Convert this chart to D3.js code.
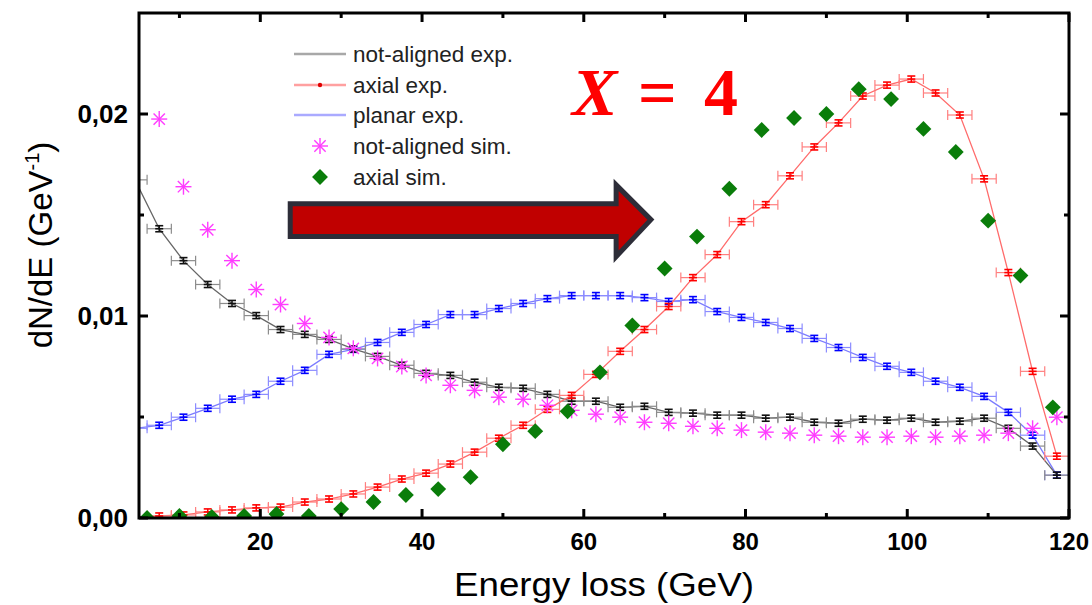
<!DOCTYPE html>
<html>
<head>
<meta charset="utf-8">
<script src="https://cdn.jsdelivr.net/npm/d3@7"></script>
<style>
  html, body { margin: 0; padding: 0; background: #fff; }
  svg { display: block; }
</style>
</head>
<body>
<svg id="chart" width="1092" height="605"></svg>
<script>
// ---------------- data ----------------
// experimental bin centres (GeV)
const expEnergy = [4.5,7.5,10.5,13.5,16.5,19.5,22.5,25.5,28.5,31.5,34.5,37.5,40.5,43.5,46.5,49.5,52.5,55.5,58.5,61.5,
  64.5,67.5,70.5,73.5,76.5,79.5,82.5,85.5,88.5,91.5,94.5,97.5,100.5,103.5,106.5,109.5,112.5,115.5,118.5];
// values in units of 1e-3 GeV^-1
const notAlignedExp = [16.74,14.32,12.74,11.56,10.62,10.02,9.33,9.09,8.84,8.37,8.0,7.56,7.16,7.06,6.72,6.47,6.42,6.12,5.78,5.78,
  5.48,5.53,5.23,5.19,5.09,5.09,4.94,4.99,4.74,4.69,4.89,4.84,4.94,4.74,4.79,4.94,4.44,3.56,2.12];
const axialExp = [0.05,0.1,0.15,0.3,0.4,0.5,0.54,0.79,0.94,1.19,1.53,1.93,2.22,2.67,3.26,3.95,4.59,5.38,6.07,7.11,
  8.25,9.33,10.47,11.9,13.04,14.67,15.51,16.94,18.37,19.56,20.89,21.43,21.73,21.04,19.95,16.79,12.15,7.26,3.06];
const planarExp = [4.44,4.59,4.99,5.43,5.88,6.12,6.77,7.31,8.1,8.35,8.69,9.19,9.58,10.07,10.07,10.37,10.62,10.86,11.01,11.01,
  11.01,10.91,10.72,10.81,10.22,9.93,9.68,9.38,8.89,8.44,7.95,7.51,7.21,6.77,6.47,6.02,5.23,4.10,2.12];
const expErrY = 0.15;      // vertical error (1e-3 GeV^-1)
const expHalfBin = 1.5;    // horizontal error (GeV)

const notAlignedSimEnergy = [7.5,10.5,13.5,16.5,19.5,22.5,25.5,28.5,31.5,34.5,37.5,40.5,43.5,46.5,49.5,52.5,55.5,58.5,61.5,
  64.5,67.5,70.5,73.5,76.5,79.5,82.5,85.5,88.5,91.5,94.5,97.5,100.5,103.5,106.5,109.5,112.5,115.5,118.5];
const notAlignedSim = [19.75,16.4,14.27,12.74,11.31,10.57,9.63,8.94,8.40,7.9,7.5,7.06,6.57,6.32,5.98,5.88,5.58,5.33,5.14,
  4.99,4.74,4.69,4.54,4.44,4.35,4.25,4.2,4.1,4.05,4.0,4.0,4.05,4.0,4.05,4.1,4.2,4.44,4.99];

const axialSimEnergy = [6,10,14,18,22,26,30,34,38,42,46,50,54,58,62,66,70,74,78,82,86,90,94,98,102,106,110,114,118];
const axialSim = [0.0,0.1,0.05,0.1,0.2,0.1,0.44,0.79,1.14,1.43,2.02,3.65,4.30,5.28,7.21,9.53,12.35,13.93,16.30,19.21,
  19.80,20.0,21.23,20.74,19.26,18.12,14.72,12.0,5.48];

const xMajorTicks = [20,40,60,80,100,120];
const xMinorTicks = [10,30,50,70,90,110];
const yMajorTicks = [0, 0.01, 0.02];
const yMinorTicks = [0.005, 0.015];
const yTickLabels = ["0,00","0,01","0,02"];

const legendLabels = ["not-aligned exp.","axial exp.","planar exp.","not-aligned sim.","axial sim."];

// arrow annotation, in data coordinates (GeV, GeV^-1)
const arrowE = {start: 23.7, headBase: 64.0, tip: 68.3};
const arrowV = {bodyTop: 0.01556, bodyBottom: 0.01393, headTop: 0.01649, headBottom: 0.01294, mid: 0.01477};

// ---------------- layout ----------------
const svg = d3.select("#chart");
const L = 139, R = 1069, T = 13, B = 518;
const x = d3.scaleLinear().domain([5, 120]).range([L, R]);
const y = d3.scaleLinear().domain([0, 0.025]).range([B, T]);
const sc = 1e-3;

svg.append("rect").attr("width",1092).attr("height",605).attr("fill","#fff");

svg.append("defs").append("clipPath").attr("id","plotclip")
  .append("rect").attr("x",L).attr("y",T).attr("width",R-L).attr("height",B-T);

const plot = svg.append("g").attr("clip-path","url(#plotclip)");

// ---------------- experimental series ----------------
function expSeries(vals, lineCol, lightCol, darkCol) {
  const pts = expEnergy.map((e,i)=>({e, v: vals[i]*sc}));
  const g = plot.append("g");
  g.append("path").datum(pts)
    .attr("fill","none").attr("stroke",lineCol).attr("stroke-width",1.3)
    .attr("d", d3.line().x(d=>x(d.e)).y(d=>y(d.v)));
  const eb = g.selectAll("g.eb").data(pts).join("g");
  eb.append("line")
    .attr("x1",d=>x(d.e-expHalfBin)).attr("x2",d=>x(d.e+expHalfBin))
    .attr("y1",d=>y(d.v)).attr("y2",d=>y(d.v))
    .attr("stroke",lightCol).attr("stroke-width",1.2);
  [-1,1].forEach(s=>{
    eb.append("line")
      .attr("x1",d=>x(d.e+s*expHalfBin)).attr("x2",d=>x(d.e+s*expHalfBin))
      .attr("y1",d=>y(d.v)-5).attr("y2",d=>y(d.v)+5)
      .attr("stroke",lightCol).attr("stroke-width",1.2);
  });
  eb.append("line")
    .attr("x1",d=>x(d.e)).attr("x2",d=>x(d.e))
    .attr("y1",d=>y(d.v+expErrY*sc)).attr("y2",d=>y(d.v-expErrY*sc))
    .attr("stroke",darkCol).attr("stroke-width",1.5);
  [-1,1].forEach(s=>{
    eb.append("line")
      .attr("x1",d=>x(d.e)-4).attr("x2",d=>x(d.e)+4)
      .attr("y1",d=>y(d.v+s*expErrY*sc)).attr("y2",d=>y(d.v+s*expErrY*sc))
      .attr("stroke",darkCol).attr("stroke-width",1.6);
  });
  eb.append("line")
    .attr("x1",d=>x(d.e)-4).attr("x2",d=>x(d.e)+4)
    .attr("y1",d=>y(d.v)).attr("y2",d=>y(d.v))
    .attr("stroke",darkCol).attr("stroke-width",1.6);
}

expSeries(planarExp, "#7b7bff", "#8c8cff", "#0000ff");
expSeries(notAlignedExp, "#666666", "#8c8c8c", "#111111");
expSeries(axialExp, "#ff6b6b", "#ff7f7f", "#ff0000");

// ---------------- simulation series ----------------
function asterisk(sel, r) {
  [0,45,90,135].forEach(a=>{
    const rad = a*Math.PI/180;
    sel.append("line")
      .attr("x1",-r*Math.cos(rad)).attr("y1",-r*Math.sin(rad))
      .attr("x2",r*Math.cos(rad)).attr("y2",r*Math.sin(rad));
  });
}
const mag = plot.append("g").attr("stroke","#ff3cff").attr("stroke-width",1.4);
notAlignedSimEnergy.forEach((e,i)=>{
  const g = mag.append("g").attr("transform",`translate(${x(e)},${y(notAlignedSim[i]*sc)})`);
  asterisk(g, 8);
});

const diamond = d3.symbol().type(d3.symbolDiamond2).size(160);
plot.append("g").selectAll("path")
  .data(axialSimEnergy.map((e,i)=>({e, v: axialSim[i]*sc})))
  .join("path")
  .attr("transform",d=>`translate(${x(d.e)},${y(d.v)})`)
  .attr("d", diamond)
  .attr("fill","#0a7d0a");

// ---------------- frame & ticks ----------------
const frame = svg.append("g").attr("stroke","#000").attr("stroke-width",3);
function tickLine(x1,y1,x2,y2){ frame.append("line").attr("x1",x1).attr("y1",y1).attr("x2",x2).attr("y2",y2); }
xMajorTicks.forEach(t=>{ tickLine(x(t),B,x(t),B-9); tickLine(x(t),T,x(t),T+9); });
xMinorTicks.forEach(t=>{ tickLine(x(t),B,x(t),B-5); tickLine(x(t),T,x(t),T+5); });
yMajorTicks.forEach(t=>{ tickLine(L,y(t),L+9,y(t)); tickLine(R,y(t),R-9,y(t)); });
yMinorTicks.forEach(t=>{ tickLine(L,y(t),L+5,y(t)); tickLine(R,y(t),R-5,y(t)); });
frame.append("rect").attr("x",L).attr("y",T).attr("width",R-L).attr("height",B-T).attr("fill","none");

// tick labels
svg.append("g").selectAll("text").data(xMajorTicks).join("text")
  .attr("x",d=>x(d)).attr("y",550)
  .attr("text-anchor","middle")
  .attr("font-family","Liberation Sans, Arial, sans-serif")
  .attr("font-weight","bold").attr("font-size",24).attr("fill","#000")
  .text(d=>d);
svg.append("g").selectAll("text").data(yMajorTicks).join("text")
  .attr("x",128).attr("y",d=>y(d)).attr("dy","0.36em")
  .attr("text-anchor","end")
  .attr("font-family","Liberation Sans, Arial, sans-serif")
  .attr("font-weight","bold").attr("font-size",26).attr("fill","#000")
  .text((d,i)=>yTickLabels[i]);

// axis titles
svg.append("text")
  .attr("x",(L+R)/2).attr("y",596)
  .attr("text-anchor","middle")
  .attr("font-family","Liberation Sans, Arial, sans-serif")
  .attr("font-size",34).attr("fill","#000")
  .attr("textLength",300).attr("lengthAdjust","spacingAndGlyphs")
  .text("Energy loss (GeV)");

const yt = svg.append("text")
  .attr("transform","translate(52,245) rotate(-90)")
  .attr("text-anchor","middle")
  .attr("font-family","Liberation Sans, Arial, sans-serif")
  .attr("font-size",33).attr("fill","#000");
yt.append("tspan").text("dN/dE (GeV");
yt.append("tspan").attr("font-size",20).attr("dy",-13).text("-1");
yt.append("tspan").attr("dy",13).text(")");

// ---------------- legend ----------------
const legX = 294, legRowY = [54, 85, 115, 146, 177];
const leg = svg.append("g");
const legFont = g=>g.attr("font-family","Liberation Sans, Arial, sans-serif").attr("font-size",22.5).attr("fill","#222");
legendLabels.forEach((lab,i)=>{
  leg.append("text").attr("x",353).attr("y",legRowY[i]).attr("dy","0.35em").call(legFont).text(lab);
});
leg.append("line").attr("x1",legX).attr("x2",legX+52).attr("y1",legRowY[0]).attr("y2",legRowY[0]).attr("stroke","#a8a8a8").attr("stroke-width",2.5);
leg.append("line").attr("x1",legX).attr("x2",legX+52).attr("y1",legRowY[1]).attr("y2",legRowY[1]).attr("stroke","#ffa0a0").attr("stroke-width",2.5);
leg.append("circle").attr("cx",legX+26).attr("cy",legRowY[1]).attr("r",2.2).attr("fill","#e00000");
leg.append("line").attr("x1",legX).attr("x2",legX+52).attr("y1",legRowY[2]).attr("y2",legRowY[2]).attr("stroke","#aaaaff").attr("stroke-width",2.5);
const la = leg.append("g").attr("transform",`translate(${legX+26},${legRowY[3]})`).attr("stroke","#ff3cff").attr("stroke-width",1.4);
asterisk(la, 8);
leg.append("path").attr("transform",`translate(${legX+26},${legRowY[4]})`).attr("d",diamond).attr("fill","#0a7d0a");

// ---------------- arrow annotation ----------------
const arrowPts = [
  [x(arrowE.start), y(arrowV.bodyTop)],
  [x(arrowE.headBase), y(arrowV.bodyTop)],
  [x(arrowE.headBase), y(arrowV.headTop)],
  [x(arrowE.tip), y(arrowV.mid)],
  [x(arrowE.headBase), y(arrowV.headBottom)],
  [x(arrowE.headBase), y(arrowV.bodyBottom)],
  [x(arrowE.start), y(arrowV.bodyBottom)]
];
svg.append("polygon")
  .attr("points", arrowPts.map(p=>p.join(",")).join(" "))
  .attr("fill","#c00000").attr("stroke","#2d2d38").attr("stroke-width",5)
  .attr("stroke-linejoin","miter");

// ---------------- "X = 4" annotation ----------------
const ann = svg.append("text").attr("y",115)
  .attr("font-family","Liberation Serif, DejaVu Serif, serif")
  .attr("font-weight","bold").attr("font-size",68).attr("fill","#ff0000");
ann.append("tspan").attr("x",572).attr("font-style","italic").text("X");
ann.append("tspan").attr("x",638).text("=");
ann.append("tspan").attr("x",704).text("4");
</script>
</body>
</html>
